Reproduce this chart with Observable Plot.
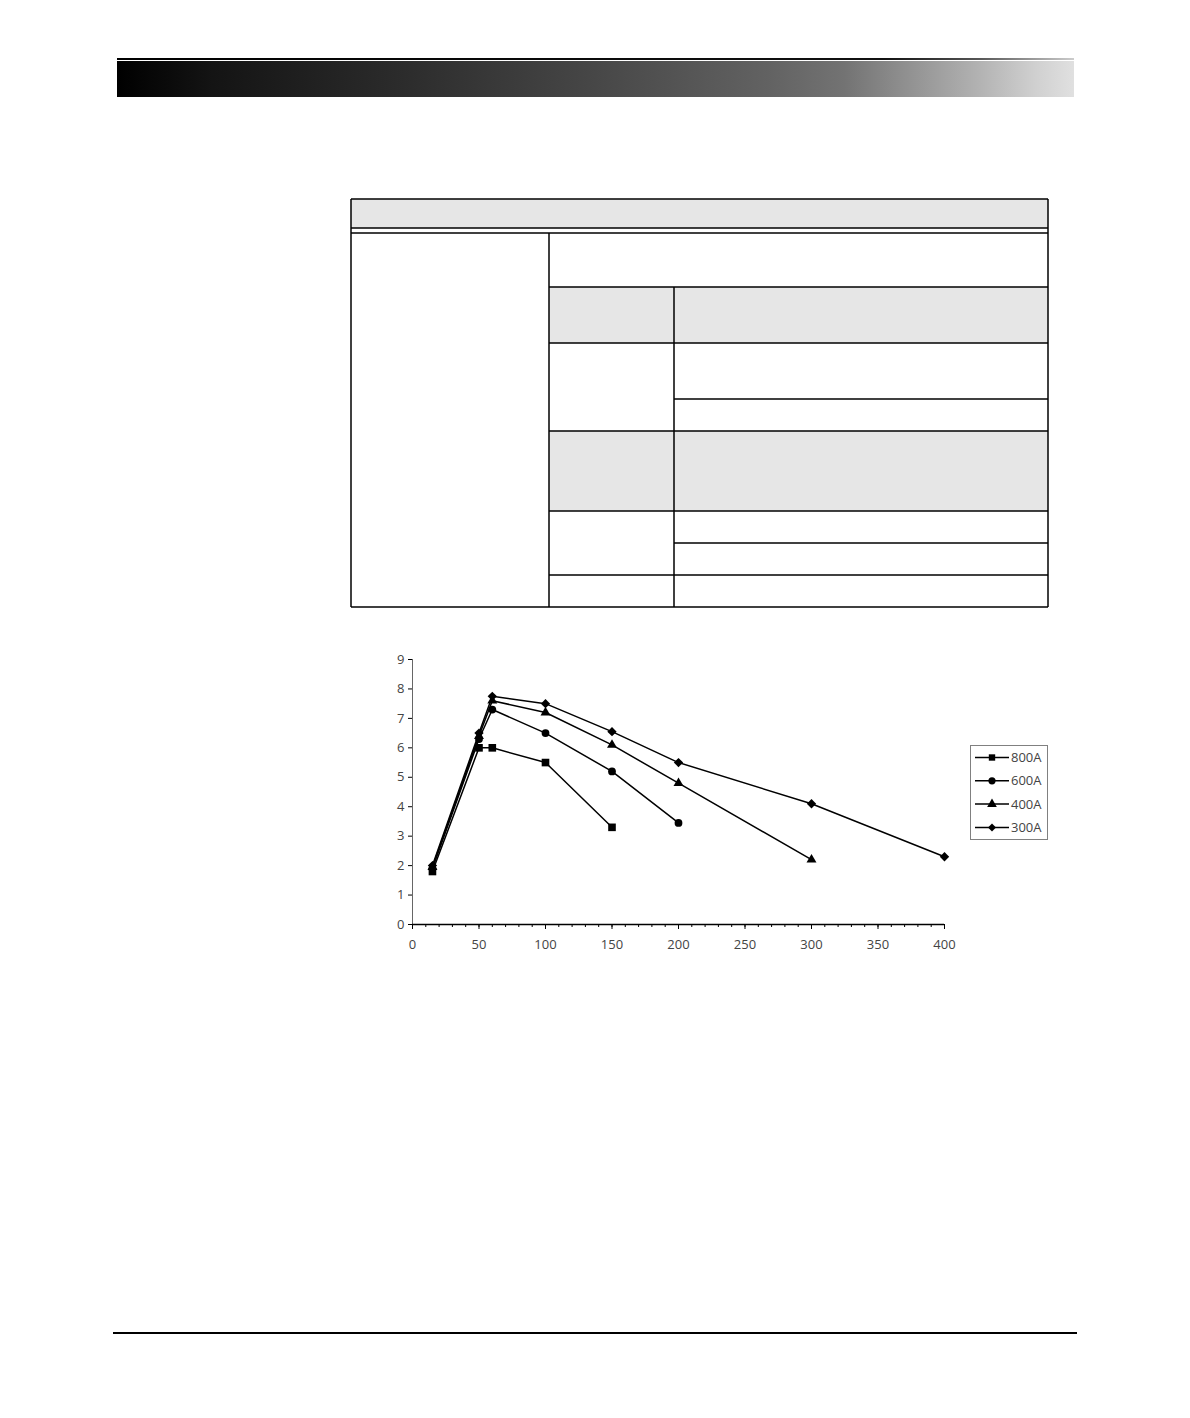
<!DOCTYPE html>
<html><head><meta charset="utf-8">
<script src="https://cdn.jsdelivr.net/npm/d3@7"></script>
<script src="https://cdn.jsdelivr.net/npm/@observablehq/plot@0.6"></script>
<style>
html,body{margin:0;padding:0;background:#fff;}
#page{position:relative;width:1190px;height:1418px;overflow:hidden;font-family:"Open Sans",sans-serif;}
#topline{position:absolute;left:117px;top:58px;width:957px;height:2px;background:linear-gradient(to right,#000 0%,#111 80%,#555 90%,#ccc 100%);}
#bar{position:absolute;left:117px;top:61px;width:957px;height:36px;
 background:linear-gradient(to right,#000 0%,#141414 10%,#2c2c2c 30%,#474747 50%,#626262 68%,#737373 76%,#8e8e8e 82%,#b2b2b2 90%,#d0d0d0 96%,#e0e0e0 100%);}
#foot{position:absolute;left:113px;top:1332px;width:964px;height:2px;background:#000;}
#tbl{position:absolute;left:0;top:0;}
#chart{position:absolute;left:370px;top:645px;}
#legend{position:absolute;left:970px;top:745px;width:76px;height:93px;border:1px solid #808080;background:#fff;}
</style></head><body><div id="page">
<div id="topline"></div><div id="bar"></div>
<svg id="tbl" width="1190" height="700"></svg>
<div id="chart"></div>
<div id="legend"></div>
<div id="foot"></div>
</div>
<script>
// ---- chart data ----
const seriesNames = ["800A", "600A", "400A", "300A"];
const seriesSymbols = ["square", "circle", "triangle", "diamond2"];
const x800 = [15, 50, 60, 100, 150];
const y800 = [1.8, 6.0, 6.0, 5.5, 3.3];
const x600 = [15, 50, 60, 100, 150, 200];
const y600 = [1.9, 6.3, 7.3, 6.5, 5.2, 3.45];
const x400 = [15, 50, 60, 100, 150, 200, 300];
const y400 = [1.95, 6.4, 7.6, 7.2, 6.1, 4.8, 2.2];
const x300 = [15, 50, 60, 100, 150, 200, 300, 400];
const y300 = [2.0, 6.5, 7.75, 7.5, 6.55, 5.5, 4.1, 2.3];
const xTicks = [0, 50, 100, 150, 200, 250, 300, 350, 400];
const xMinorTicks = d3.range(0, 401, 10);
const yTicks = [0, 1, 2, 3, 4, 5, 6, 7, 8, 9];

const xs = [x800, x600, x400, x300];
const ys = [y800, y600, y400, y300];
const rows = [];
seriesNames.forEach((name, i) => xs[i].forEach((x, j) => rows.push({series: name, x, y: ys[i][j]})));

const markerR = {square: 4.3, circle: 3.9, triangle: 3.7, diamond2: 4.2};
const FONT = "'Open Sans', sans-serif";

const marks = [
  Plot.axisX({ticks: xMinorTicks, tickSize: 3, tickFormat: () => "", label: null, stroke: "#000"}),
  Plot.axisX({ticks: xTicks, tickSize: 5, tickPadding: 10, label: null, stroke: "#000", fill: "#444"}),
  Plot.axisY({ticks: yTicks, tickSize: 4, tickPadding: 4, label: null, stroke: "#000", fill: "#444"}),
  Plot.ruleX([0], {stroke: "#666", strokeWidth: 1}),
  Plot.ruleY([0], {stroke: "#000", strokeWidth: 1.3}),
  Plot.line(rows, {x: "x", y: "y", z: "series", stroke: "#000", strokeWidth: 1.5})
];
seriesNames.forEach((name, i) => {
  const sym = seriesSymbols[i];
  marks.push(Plot.dot(rows.filter(d => d.series === name), {x: "x", y: "y", symbol: sym, r: markerR[sym], fill: "#000", stroke: "none"}));
});

const chart = Plot.plot({
  width: 600, height: 320,
  marginLeft: 42, marginRight: 26, marginTop: 14, marginBottom: 41,
  x: {domain: [0, 400]},
  y: {domain: [0, 9]},
  style: {fontFamily: FONT, fontSize: "13px", color: "#000", background: "transparent", overflow: "visible"},
  marks
});
document.getElementById("chart").appendChild(chart);

// ---- legend ----
const leg = d3.select("#legend").append("svg").attr("width", 76).attr("height", 93);
const symMap = {square: d3.symbolSquare, circle: d3.symbolCircle, triangle: d3.symbolTriangle, diamond2: d3.symbolDiamond2};
seriesNames.forEach((name, i) => {
  const yy = 11.5 + i * 23.3;
  const g = leg.append("g").attr("transform", `translate(0,${yy})`);
  g.append("line").attr("x1", 4).attr("x2", 38).attr("stroke", "#000").attr("stroke-width", 1.5);
  const sym = seriesSymbols[i];
  const r = Math.min(markerR[sym], 3.6);
  g.append("path").attr("transform", "translate(21,0)").attr("d", d3.symbol(symMap[sym], Math.PI * r * r)()).attr("fill", "#000");
  g.append("text").attr("x", 40).attr("y", 0).attr("dy", "0.36em").attr("font-size", 13)
    .attr("font-family", FONT).attr("fill", "#444").text(name);
});

// ---- table frame ----
const t = d3.select("#tbl");
const greys = [[351,199,697,29],[549,287,499,56],[549,431,499,80]];
greys.forEach(([x,y,w,h]) => t.append("rect").attr("x", x).attr("y", y).attr("width", w).attr("height", h).attr("fill", "#e6e6e6"));
const hl = [[351,1048,199],[351,1048,228],[351,1048,233],[549,1048,287],[549,1048,343],[674,1048,399],[549,1048,431],[549,1048,511],[674,1048,543],[549,1048,575],[351,1048,607]];
hl.forEach(([x1,x2,y]) => t.append("line").attr("x1", x1).attr("x2", x2).attr("y1", y).attr("y2", y).attr("stroke", "#000").attr("stroke-width", 1.5));
const vl = [[351,199,607],[1048,199,607],[549,233,607],[674,287,607]];
vl.forEach(([x,y1,y2]) => t.append("line").attr("x1", x).attr("x2", x).attr("y1", y1).attr("y2", y2).attr("stroke", "#000").attr("stroke-width", 1.5));
</script>
</body></html>
